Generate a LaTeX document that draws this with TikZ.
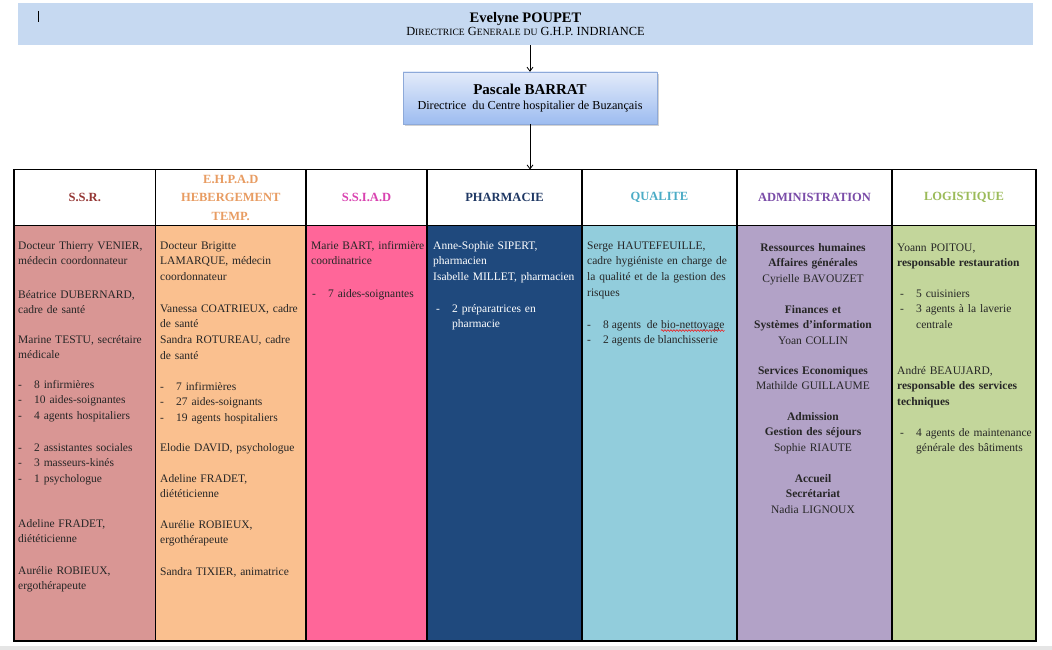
\documentclass[tikz,border=0pt]{standalone}
\usepackage{fontspec}
\setmainfont{Liberation Serif}
\usetikzlibrary{shadows,arrows.meta,decorations.pathmorphing}
\definecolor{bannerC}{HTML}{C6D9F1}
\definecolor{ssrF}{HTML}{D99694}
\definecolor{ssrT}{HTML}{953735}
\definecolor{ehpF}{HTML}{FAC08F}
\definecolor{ehpT}{HTML}{E89C62}
\definecolor{ssiF}{HTML}{FF6699}
\definecolor{ssiT}{HTML}{D942B0}
\definecolor{phaF}{HTML}{1F497D}
\definecolor{phaT}{HTML}{1F3864}
\definecolor{quaF}{HTML}{92CDDC}
\definecolor{quaT}{HTML}{4BACC6}
\definecolor{admF}{HTML}{B2A2C7}
\definecolor{admT}{HTML}{7A4CA8}
\definecolor{logF}{HTML}{C3D69B}
\definecolor{logT}{HTML}{9BBB59}
\definecolor{txtC}{HTML}{262626}
\definecolor{pbTop}{HTML}{E3EBFA}
\definecolor{pbBot}{HTML}{9DBCF0}
\definecolor{pbLine}{HTML}{8DA9D9}
\newcommand\smc[1]{{\fontsize{9.6}{10}\selectfont #1}}
\newcommand\itm[1]{\makebox[16pt][l]{-}#1}
\newcommand\cnt[1]{\hspace*{16pt}#1}
\tikzset{
  cellbox/.style={draw=black, line width=1.3pt},
  hdr/.style={draw=black, line width=1.3pt, fill=white, outer sep=0pt, minimum height=56pt, align=center, font=\fontsize{12.5}{18.5}\selectfont\bfseries},
  body/.style={anchor=base west, inner sep=0pt, align=left, text width=150pt, text=txtC, font=\fontsize{11.5}{15.7}\selectfont},
  bline/.style={anchor=base west, inner sep=0pt, text=txtC, font=\fontsize{11.5}{15.7}\selectfont},
  bodyc/.style={anchor=base, inner sep=0pt, align=center, text width=150pt, text=txtC, font=\fontsize{11.5}{15.5}\selectfont},
  arr/.style={draw=black, line width=0.8pt, -{Straight Barb[length=4pt,width=6pt]}},
  spell/.style={draw=red, line width=0.5pt, decorate, decoration={snake, amplitude=0.9pt, segment length=3pt}},
}
\begin{document}
\begin{tikzpicture}[x=1pt,y=-1pt]
\useasboundingbox (0,0) rectangle (1052,650);
\fill[white] (0,0) rectangle (1052,650);
\fill[black!10] (0,646) rectangle (1052,650);
% top banner
\node[fill=bannerC, minimum width=1015pt, minimum height=42pt, align=center, inner sep=0pt] (dg) at (525.5,24)
  {{\fontsize{14.5}{16}\selectfont\bfseries Evelyne POUPET}\\[1pt]{\fontsize{12.4}{13}\selectfont D\smc{IRECTRICE} G\smc{ENERALE} \smc{DU} G.H.P. INDRIANCE}};
\draw[line width=0.6pt] (38,11) -- (38,22);
% Pascale box
\node[draw=pbLine, top color=pbTop, bottom color=pbBot, minimum width=254pt, minimum height=52pt, align=center, inner sep=0pt,
  drop shadow={shadow xshift=2pt, shadow yshift=-2pt, opacity=0.35}] (pb) at (530,98)
  {{\fontsize{15}{17}\selectfont\bfseries Pascale BARRAT}\\[3pt]{\fontsize{12.2}{13}\selectfont Directrice~ du Centre hospitalier de Buzançais}};
% body cells
\path[cellbox, fill=ssrF] (14,225.5) rectangle (155.5,641);
\path[cellbox, fill=ehpF] (155.5,225.5) rectangle (306,641);
\path[cellbox, fill=ssiF] (306,225.5) rectangle (427,641);
\path[cellbox, fill=phaF] (427,225.5) rectangle (582,641);
\path[cellbox, fill=quaF] (582,225.5) rectangle (737,641);
\path[cellbox, fill=admF] (737,225.5) rectangle (892,641);
\path[cellbox, fill=logF] (892,225.5) rectangle (1036,641);
% header cells
\node[hdr, minimum width=141.5pt, text=ssrT] (h1) at (84.75,197.5) {S.S.R.};
\node[hdr, minimum width=150.5pt, text=ehpT] (h2) at (230.75,197.5) {E.H.P.A.D\\HEBERGEMENT\\TEMP.};
\node[hdr, minimum width=121pt, text=ssiT] (h3) at (366.5,197.5) {S.S.I.A.D};
\node[hdr, minimum width=155pt, text=phaT] (h4) at (504.5,197.5) {PHARMACIE};
\node[hdr, minimum width=155pt, text=quaT] (h5) at (659.5,197.5) {QUALITE};
\node[hdr, minimum width=155pt, text=admT] (h6) at (814.5,197.5) {ADMINISTRATION};
\node[hdr, minimum width=144pt, text=logT] (h7) at (964,197.5) {LOGISTIQUE};
% connectors
\draw[arr] (dg.south -| pb.north) -- (pb.north);
\draw[arr] (pb.south) -- (pb.south |- h4.north);
% S.S.R.
\node[body] (s1) at (18,249) {Docteur Thierry VENIER,\\médecin coordonnateur};
\node[body] (s2) at (18,298) {Béatrice DUBERNARD,\\cadre de santé};
\node[body] (s3) at (18,343) {Marine TESTU, secrétaire\\médicale};
\node[body] (s4) at (18,388) {\itm{8 infirmières}\\\itm{10 aides-soignantes}\\\itm{4 agents hospitaliers}};
\node[body] (s5) at (18,451) {\itm{2 assistantes sociales}\\\itm{3 masseurs-kinés}\\\itm{1 psychologue}};
\node[body] (s6) at (18,527) {Adeline FRADET,\\diététicienne};
\node[body] (s7) at (18,574) {Aurélie ROBIEUX,\\ergothérapeute};
% EHPAD
\node[body] (e1) at (160,249) {Docteur Brigitte\\LAMARQUE, médecin\\coordonnateur};
\node[body] (e2) at (160,312) {Vanessa COATRIEUX, cadre\\de santé\\Sandra ROTUREAU, cadre\\de santé};
\node[body] (e3) at (160,390) {\itm{7 infirmières}\\\itm{27 aides-soignants}\\\itm{19 agents hospitaliers}};
\node[body] (e4) at (160,451) {Elodie DAVID, psychologue};
\node[body] (e5) at (160,482) {Adeline FRADET,\\diététicienne};
\node[body] (e6) at (160,528) {Aurélie ROBIEUX,\\ergothérapeute};
\node[body] (e7) at (160,575) {Sandra TIXIER, animatrice};
% SSIAD
\node[body] (i1) at (311,249) {Marie BART, infirmière\\coordinatrice};
\node[body] (i2) at (312,297) {\itm{7 aides-soignantes}};
% Pharmacie
\node[body, text=white] (p1) at (433,249) {Anne-Sophie SIPERT,\\pharmacien\\Isabelle MILLET, pharmacien};
\node[body, text=white] (p2) at (436,312) {\itm{2 préparatrices en}\\\cnt{pharmacie}};
% Qualite
\node[body] (q1) at (587,249) {Serge HAUTEFEUILLE,\\cadre hygiéniste en charge de\\la qualité et de la gestion des\\risques};
\node[bline] (q2) at (587,328) {\itm{8 agents~ de}};
\node[bline] (q3) at ([xshift=3pt]q2.base east) {bio-nettoyage};
\draw[spell] ([yshift=-2.5pt]q3.base west) -- ([yshift=-2.5pt]q3.base east);
\node[bline] (q4) at (587,343.7) {\itm{2 agents de blanchisserie}};
% Administration
\node[bodyc] (a1) at (813,251) {\textbf{Ressources humaines}\\\textbf{Affaires générales}\\Cyrielle BAVOUZET};
\node[bodyc] (a2) at (813,313) {\textbf{Finances et}\\\textbf{Systèmes d’information}\\Yoan COLLIN};
\node[bodyc] (a3) at (813,374) {\textbf{Services Economiques}\\Mathilde GUILLAUME};
\node[bodyc] (a4) at (813,420) {\textbf{Admission}\\\textbf{Gestion des séjours}\\Sophie RIAUTE};
\node[bodyc] (a5) at (813,482) {\textbf{Accueil}\\\textbf{Secrétariat}\\Nadia LIGNOUX};
% Logistique
\node[body] (l1) at (897,251) {Yoann POITOU,\\\textbf{responsable restauration}};
\node[body] (l2) at (900,297) {\itm{5 cuisiniers}\\\itm{3 agents à la laverie}\\\cnt{centrale}};
\node[body] (l3) at (897,374) {André BEAUJARD,\\\textbf{responsable des services}\\\textbf{techniques}};
\node[body] (l4) at (900,436) {\itm{4 agents de maintenance}\\\cnt{générale des bâtiments}};
\end{tikzpicture}
\end{document}
